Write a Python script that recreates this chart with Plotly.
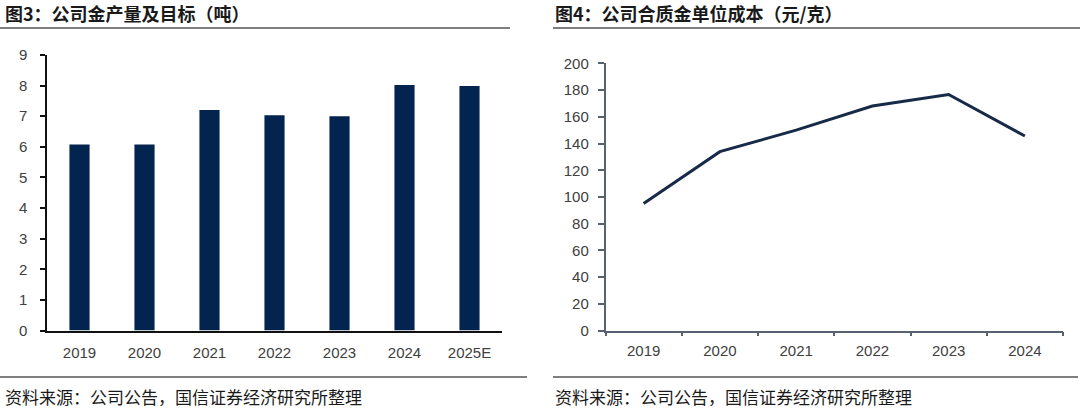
import plotly.graph_objects as go

# Data
bar_years = ["2019", "2020", "2021", "2022", "2023", "2024", "2025E"]
gold_output_t = [6.08, 6.08, 7.2, 7.03, 7.0, 8.02, 7.99]

line_years = ["2019", "2020", "2021", "2022", "2023", "2024"]
unit_cost = [95.2, 133.9, 150.0, 168.0, 176.7, 145.6]

title_left = "图3：公司金产量及目标（吨）"
title_right = "图4：公司合质金单位成本（元/克）"
source_text = "资料来源：公司公告，国信证券经济研究所整理"

W, H = 1080, 415
BAR_COLOR = "#03244f"
LINE_COLOR = "#172a47"
TICK_FONT = dict(family="Liberation Sans, Arial, sans-serif", size=15, color="#404040")
CJK = "Noto Sans CJK SC, sans-serif"

fig = go.Figure()

fig.add_trace(go.Bar(
    x=bar_years, y=gold_output_t, marker=dict(color=BAR_COLOR, line=dict(width=0)),
    width=0.31, xaxis="x", yaxis="y", showlegend=False,
))
fig.add_trace(go.Scatter(
    x=line_years, y=unit_cost, mode="lines",
    line=dict(color=LINE_COLOR, width=3), xaxis="x2", yaxis="y2", showlegend=False,
))

def px_x(p):
    return p / W

def px_y(p):
    return 1 - p / H

fig.update_layout(
    width=W, height=H,
    margin=dict(l=0, r=0, t=0, b=0, autoexpand=False),
    paper_bgcolor="white", plot_bgcolor="white",
    xaxis=dict(
        domain=[px_x(47), px_x(502)], anchor="y", type="category",
        range=[-0.5, 6.5], showline=True, linecolor="#111111", linewidth=1.5,
        ticks="", tickfont=TICK_FONT, showgrid=False, zeroline=False,
        ticklabelstandoff=8, automargin=False,
    ),
    yaxis=dict(
        domain=[px_y(330.5), px_y(55)], anchor="x", range=[0, 9], dtick=1,
        showline=True, linecolor="#111111", linewidth=1.5,
        ticks="outside", ticklen=5, tickcolor="#111111", tickwidth=1.5,
        tickfont=TICK_FONT, showgrid=False, zeroline=False,
        ticklabelstandoff=10, automargin=False,
    ),
    xaxis2=dict(
        domain=[px_x(605.5), px_x(1063)], anchor="y2", type="category",
        range=[-0.5, 5.5], showline=True, linecolor="#56626f", linewidth=1.5,
        ticks="outside", ticklen=4, tickcolor="#56626f", tickwidth=1.5,
        tickson="boundaries", tickfont=TICK_FONT, showgrid=False, zeroline=False,
        ticklabelstandoff=6, automargin=False,
    ),
    yaxis2=dict(
        domain=[px_y(330.7), px_y(63.3)], anchor="x2", range=[0, 200], dtick=20,
        showline=True, linecolor="#56626f", linewidth=1.5,
        ticks="outside", ticklen=6, tickcolor="#56626f", tickwidth=1.5,
        tickfont=TICK_FONT, showgrid=False, zeroline=False,
        ticklabelstandoff=6, automargin=False,
    ),
)

shapes = []
for x0, x1, y in [(0, 510, 28), (553, 1080, 28), (0, 527, 377), (553, 1078, 377)]:
    shapes.append(dict(type="line", xref="paper", yref="paper",
                       x0=px_x(x0), x1=px_x(x1), y0=px_y(y), y1=px_y(y),
                       line=dict(color="#7f7f7f", width=2)))
fig.update_layout(shapes=shapes)

annotations = []
for x, text in [(3, title_left), (553, title_right)]:
    annotations.append(dict(
        text="<b>" + text + "</b>", x=px_x(x), y=px_y(13), xref="paper", yref="paper",
        xanchor="left", yanchor="middle", showarrow=False,
        font=dict(family=CJK, size=18, color="#1a1a1a"),
    ))
for x in [3, 553]:
    annotations.append(dict(
        text=source_text, x=px_x(x), y=px_y(396), xref="paper", yref="paper",
        xanchor="left", yanchor="middle", showarrow=False,
        font=dict(family=CJK, size=17, color="#1a1a1a"),
    ))
fig.update_layout(annotations=annotations)

fig.write_html(
    "out.html",
    config={"displayModeBar": False},
    post_script="document.body.style.margin='0';document.body.style.padding='0';document.body.style.overflow='hidden';",
)
